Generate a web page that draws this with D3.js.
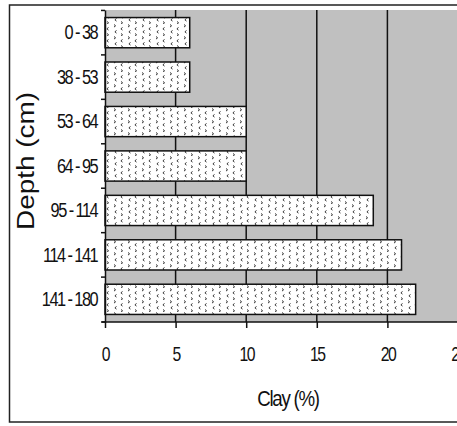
<!DOCTYPE html>
<html>
<head>
<meta charset="utf-8">
<script src="https://cdn.jsdelivr.net/npm/d3@7/dist/d3.min.js"></script>
<style>
  body { margin: 0; background: #fff; }
  svg { display: block; }
  text { font-family: "Liberation Sans", Arial, sans-serif; }
</style>
</head>
<body>
<script>
// depth intervals and clay content
var depths = ["0-38", "38-53", "53-64", "64-95", "95-114", "114-141", "141-180"];
var depthLabels = ["0 - 38", "38 - 53", "53 - 64", "64 - 95", "95 - 114", "114 - 141", "141 - 180"];
var clay = [6, 6, 10, 10, 19, 21, 22];
var xTicks = [0, 5, 10, 15, 20, 25];

var W = 457, H = 426;

var svg = d3.select("body").append("svg")
    .attr("width", W)
    .attr("height", H);

// pattern for bar fill
var defs = svg.append("defs");
var pat = defs.append("pattern")
    .attr("id", "dots")
    .attr("patternUnits", "userSpaceOnUse")
    .attr("width", 14)
    .attr("height", 12);
pat.append("rect").attr("width", 14).attr("height", 12).attr("fill", "#fff");
pat.append("path")
    .attr("d", "M2,0.5 l1.6,1.3 l-1.6,1.3 M10.5,3.5 l-1.6,1.3 l1.6,1.3 M4.5,6.5 l-1.6,1.3 l1.6,1.3 M9,9.5 l1.6,1.3 l-1.6,1.3")
    .attr("fill", "none")
    .attr("stroke", "#333")
    .attr("stroke-width", 1);

// outer frame
svg.append("rect")
    .attr("x", 9.5).attr("y", 5)
    .attr("width", W + 20).attr("height", 417)
    .attr("fill", "none")
    .attr("stroke", "#222")
    .attr("stroke-width", 1.5);

var x = d3.scaleLinear().domain([0, 25]).range([105, 458]);
var y = d3.scaleBand().domain(depths).range([10, 322]).paddingInner(0.32).paddingOuter(0.17);

// plot area background
svg.append("rect")
    .attr("x", x(0)).attr("y", 10)
    .attr("width", W - x(0)).attr("height", 312)
    .attr("fill", "#c0c0c0");

// vertical gridlines
svg.append("g").selectAll("line")
    .data(xTicks.filter(function(d) { return d > 0; }))
    .enter().append("line")
        .attr("x1", function(d) { return x(d); })
        .attr("x2", function(d) { return x(d); })
        .attr("y1", 10).attr("y2", 322)
        .attr("stroke", "#111")
        .attr("stroke-width", 1.5);

// bars
svg.append("g").selectAll("rect")
    .data(clay)
    .enter().append("rect")
        .attr("x", x(0))
        .attr("y", function(d, i) { return y(depths[i]); })
        .attr("width", function(d) { return x(d) - x(0); })
        .attr("height", y.bandwidth())
        .attr("fill", "url(#dots)")
        .attr("stroke", "#111")
        .attr("stroke-width", 1.5);

// squeeze text horizontally (the original uses a condensed face)
function squeeze(sel, s) {
    sel.each(function() {
        var t = d3.select(this);
        var x0 = +t.attr("x") || 0;
        t.attr("x", x0 / s).attr("transform", "scale(" + s + ",1)");
    });
}

// x axis
var xAxis = svg.append("g")
    .attr("transform", "translate(0,322)")
    .call(d3.axisBottom(x).tickValues(xTicks).tickSize(6).tickPadding(18).tickFormat(d3.format("d")));
xAxis.select(".domain").attr("stroke", "#111").attr("stroke-width", 1.5).attr("d", "M" + (x(0) - 3) + ",0H" + W);
xAxis.selectAll(".tick line").attr("stroke", "#111").attr("stroke-width", 1.5);
xAxis.selectAll("text")
    .attr("font-size", 21)
    .attr("letter-spacing", -2)
    .attr("font-family", "Liberation Sans, Arial, sans-serif")
    .attr("fill", "#111")
    .call(squeeze, 0.75);

// y axis
var yAxis = svg.append("g")
    .attr("transform", "translate(" + x(0) + ",0)")
    .call(d3.axisLeft(y).tickSize(0).tickPadding(8).tickFormat(function(d, i) { return depthLabels[i]; }));
yAxis.select(".domain").attr("stroke", "#111").attr("stroke-width", 1.5);
yAxis.selectAll("text")
    .attr("font-size", 21)
    .attr("letter-spacing", -2)
    .attr("font-family", "Liberation Sans, Arial, sans-serif")
    .attr("fill", "#111")
    .call(squeeze, 0.78);

// ticks between categories
var bounds = depths.map(function(d) { return y(d) - y.step() * y.paddingInner() / 2; });
bounds.push(322);
svg.append("g").selectAll("line")
    .data(bounds)
    .enter().append("line")
        .attr("x1", x(0) - 4).attr("x2", x(0))
        .attr("y1", function(d) { return d; })
        .attr("y2", function(d) { return d; })
        .attr("stroke", "#111")
        .attr("stroke-width", 1.5);

// axis titles
svg.append("text")
    .attr("x", 288).attr("y", 406)
    .attr("text-anchor", "middle")
    .attr("font-size", 22)
    .attr("letter-spacing", -1.5)
    .attr("fill", "#111")
    .text("Clay (%)")
    .call(squeeze, 0.85);

svg.append("text")
    .attr("transform", "translate(34,161) rotate(-90)")
    .attr("text-anchor", "middle")
    .attr("font-size", 23)
    .attr("textLength", 138)
    .attr("lengthAdjust", "spacingAndGlyphs")
    .attr("fill", "#111")
    .text("Depth (cm)");
</script>
</body>
</html>
